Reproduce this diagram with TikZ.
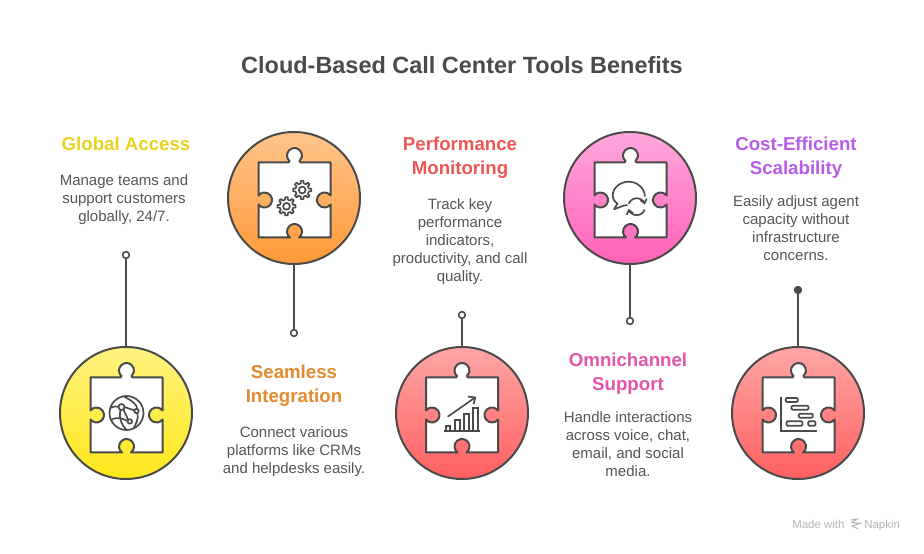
\documentclass[tikz,border=0pt]{standalone}
\usepackage{fontspec}
\setmainfont{Liberation Sans}
\usetikzlibrary{arrows.meta}

\definecolor{inkGray}{HTML}{4A4A4A}
\definecolor{bodyGray}{HTML}{555555}
\definecolor{markGray}{HTML}{B4B4B4}
\definecolor{yellowTop}{HTML}{FFF27F}
\definecolor{yellowEnd}{HTML}{FFE81A}
\definecolor{orangeTop}{HTML}{FFC48A}
\definecolor{orangeEnd}{HTML}{FF9A38}
\definecolor{redTop}{HTML}{FFA6A6}
\definecolor{redEnd}{HTML}{FF6060}
\definecolor{pinkTop}{HTML}{FFA8DC}
\definecolor{pinkEnd}{HTML}{FF62B8}
\definecolor{globalText}{HTML}{E6D41E}
\definecolor{seamlessText}{HTML}{E58A2E}
\definecolor{monitorText}{HTML}{EE5555}
\definecolor{omniText}{HTML}{E355AA}
\definecolor{costText}{HTML}{B85CE8}

\begin{document}
\begin{tikzpicture}[
    x=0.75pt, y=0.75pt,
    disc/.style={circle, draw=inkGray, line width=1.5pt, minimum size=99pt, inner sep=0pt},
    tip/.style={circle, draw=inkGray, line width=1.2pt, fill=white, minimum size=5pt, inner sep=0pt},
    stem/.style={draw=inkGray, line width=1.5pt},
    heading/.style={align=center, font=\fontsize{14pt}{18pt}\selectfont\bfseries},
    body/.style={align=center, text=bodyGray, font=\fontsize{11.25pt}{13.5pt}\selectfont},
    icon/.style={draw=inkGray, line width=1.25pt},
    brand/.style={text=markGray, font=\fontsize{8.6pt}{10pt}\selectfont, anchor=base west, inner sep=0pt},
    puzzle/.pic={
        \draw[draw=inkGray, line width=1.5pt, fill=white, line join=round]
            (-36,37.5) -- (-6,37.5) .. controls (-5,37.5) and (-5,38) .. (-5,38.9)
            arc[start angle=228.2, end angle=-48.2, radius=7.5]
            .. controls (5,38) and (5,37.5) .. (6,37.5)
            -- (36,37.5) -- (36,4.5) arc[start angle=36.87, end angle=323.13, radius=7.5]
            -- (36,-37.5) -- (4.5,-37.5) arc[start angle=-53.13, end angle=233.13, radius=7.5]
            -- (-36,-37.5) -- (-36,-4.5) arc[start angle=216.87, end angle=503.13, radius=7.5]
            -- cycle;
    },
    gear/.pic={
        \draw[icon, line join=round] (-12:6.8)
            \foreach \a in {0,45,...,315} {
                -- (\a-12:6.8) -- (\a-8:9.2) -- (\a+8:9.2) -- (\a+12:6.8)
            } -- cycle;
        \draw[icon] (0,0) circle[radius=3.4];
    },
    ]
    % title
    \node[font=\fontsize{17.6pt}{21pt}\selectfont\bfseries, text=inkGray] (title) at (462,487.5) {Cloud-Based Call Center Tools Benefits};

    % discs
    \node[disc, top color=yellowTop, bottom color=yellowEnd] (globalDisc) at (126,140) {};
    \node[disc, top color=orangeTop, bottom color=orangeEnd] (seamlessDisc) at (294,355) {};
    \node[disc, top color=redTop, bottom color=redEnd] (monitorDisc) at (462,140) {};
    \node[disc, top color=pinkTop, bottom color=pinkEnd] (omniDisc) at (630,355) {};
    \node[disc, top color=redTop, bottom color=redEnd] (costDisc) at (798,140) {};

    % stems
    \node[tip] (globalTip) at (126,298) {};
    \node[tip] (seamlessTip) at (294,220) {};
    \node[tip] (monitorTip) at (462,238) {};
    \node[tip] (omniTip) at (630,232) {};
    \node[tip, fill=inkGray] (costTip) at (798,263) {};
    \draw[stem] (globalDisc.north) -- (globalTip.south);
    \draw[stem] (seamlessDisc.south) -- (seamlessTip.north);
    \draw[stem] (monitorDisc.north) -- (monitorTip.south);
    \draw[stem] (omniDisc.south) -- (omniTip.north);
    \draw[stem] (costDisc.north) -- (costTip.south);

    % puzzle pieces
    \pic at (126.5,138) {puzzle};
    \pic at (294.5,353) {puzzle};
    \pic at (462,138) {puzzle};
    \pic at (630.5,353) {puzzle};
    \pic at (798.5,138) {puzzle};

    % globe
    \begin{scope}[shift={(126.5,140)}]
        \draw[icon] (0,0) circle[radius=17];
        \draw[icon] (-5,6) circle[radius=3];
        \draw[icon] (10,2) circle[radius=2.2];
        \draw[icon] (3.3,-8.4) circle[radius=2.2];
        \draw[icon] (-16,5) .. controls (-12,7) and (-9,7) .. (-8,6);
        \draw[icon] (-2,6) -- (7.8,2.6);
        \draw[icon] (-3,3.6) -- (1.6,-6.8);
        \draw[icon] (-6,3) .. controls (-8,-5) and (-5,-12) .. (0,-17);
        \draw[icon] (-3,16.7) .. controls (6,12) and (11,8) .. (10.5,4.2);
        \draw[icon] (11,0) .. controls (12,-6) and (10,-10) .. (7,-15.5);
        \draw[icon] (-15.5,-7) .. controls (-9,-3) and (-3,-6) .. (1,-8);
    \end{scope}

    % gears
    \pic at (302.2,363) {gear};
    \pic at (286.5,346.7) {gear};

    % chat
    \begin{scope}[shift={(630.5,353.5)}]
        \draw[icon, line join=round] (14.5,3) .. controls (14,12) and (6,17.8) .. (-1.6,17.8)
            .. controls (-10,17.8) and (-17.8,12) .. (-17.8,4)
            .. controls (-17.8,0) and (-15,-3) .. (-13,-4) -- (-16.5,-9.8) -- (-7,-6.2) -- (-3,-5.5);
        \draw[icon, -{Straight Barb[length=3pt,width=5pt]}] (-1.8,-4.3) arc[start angle=160, end angle=15, radius=8.5];
        \draw[icon, -{Straight Barb[length=3pt,width=5pt]}] (14.2,-10.1) arc[start angle=-20, end angle=-165, radius=8.5];
    \end{scope}

    % rising bars
    \begin{scope}[shift={(462,138)}]
        \draw[icon] (-17.7,-15.7) -- (18,-15.7);
        \draw[icon] (-16.3,-15.7) rectangle (-11.7,-11);
        \draw[icon] (-7,-15.7) rectangle (-2.3,-5);
        \draw[icon] (2.3,-15.7) rectangle (7,1);
        \draw[icon] (11,-15.7) rectangle (15.7,7);
        \draw[icon, -{Straight Barb[length=4pt,width=7pt]}] (-14.3,-1.7) -- (14.3,18.3);
    \end{scope}

    % gantt
    \begin{scope}[shift={(798.5,138)}]
        \draw[icon] (-17.3,18.3) -- (-17.3,-15.7) -- (18,-15.7);
        \draw[icon, rounded corners=0.8pt] (-12.7,17) rectangle (-0.7,13);
        \draw[icon, rounded corners=0.8pt] (-7,9.3) rectangle (10,5.3);
        \draw[icon, rounded corners=0.8pt] (0.3,1.3) rectangle (14.3,-2.7);
        \draw[icon, rounded corners=0.8pt] (-12,-6.3) rectangle (4,-10.7);
        \draw[icon, rounded corners=0.8pt] (9.7,-6.3) rectangle (17,-10.7);
    \end{scope}

    % texts
    \node[heading, text=globalText] (globalHead) at (126,409) {Global Access};
    \node[body] (globalBody) at (124,353) {Manage teams and\\support customers\\globally, 24/7.};

    \node[heading, text=seamlessText] (seamlessHead) at (294,167) {Seamless\\Integration};
    \node[body] (seamlessBody) at (294,101) {Connect various\\platforms like CRMs\\and helpdesks easily.};

    \node[heading, text=monitorText] (monitorHead) at (460,395) {Performance\\Monitoring};
    \node[body] (monitorBody) at (460,311) {Track key\\performance\\indicators,\\productivity, and call\\quality.};

    \node[heading, text=omniText] (omniHead) at (628,179) {Omnichannel\\Support};
    \node[body] (omniBody) at (628,109) {Handle interactions\\across voice, chat,\\email, and social\\media.};

    \node[heading, text=costText] (costHead) at (796,395) {Cost-Efficient\\Scalability};
    \node[body] (costBody) at (796,325) {Easily adjust agent\\capacity without\\infrastructure\\concerns.};

    % made with
    \node[brand] (madeWith) at (792,25) {Made with};
    \node[brand] (napkin) at (864,25) {Napkin};
    \draw[markGray, line width=0.8pt] (851,33) -- (857,34) -- (852,30.5) -- (860,29.5) -- (852,27) -- (858,24);

    \useasboundingbox (0,0) rectangle (924,553);
\end{tikzpicture}
\end{document}
